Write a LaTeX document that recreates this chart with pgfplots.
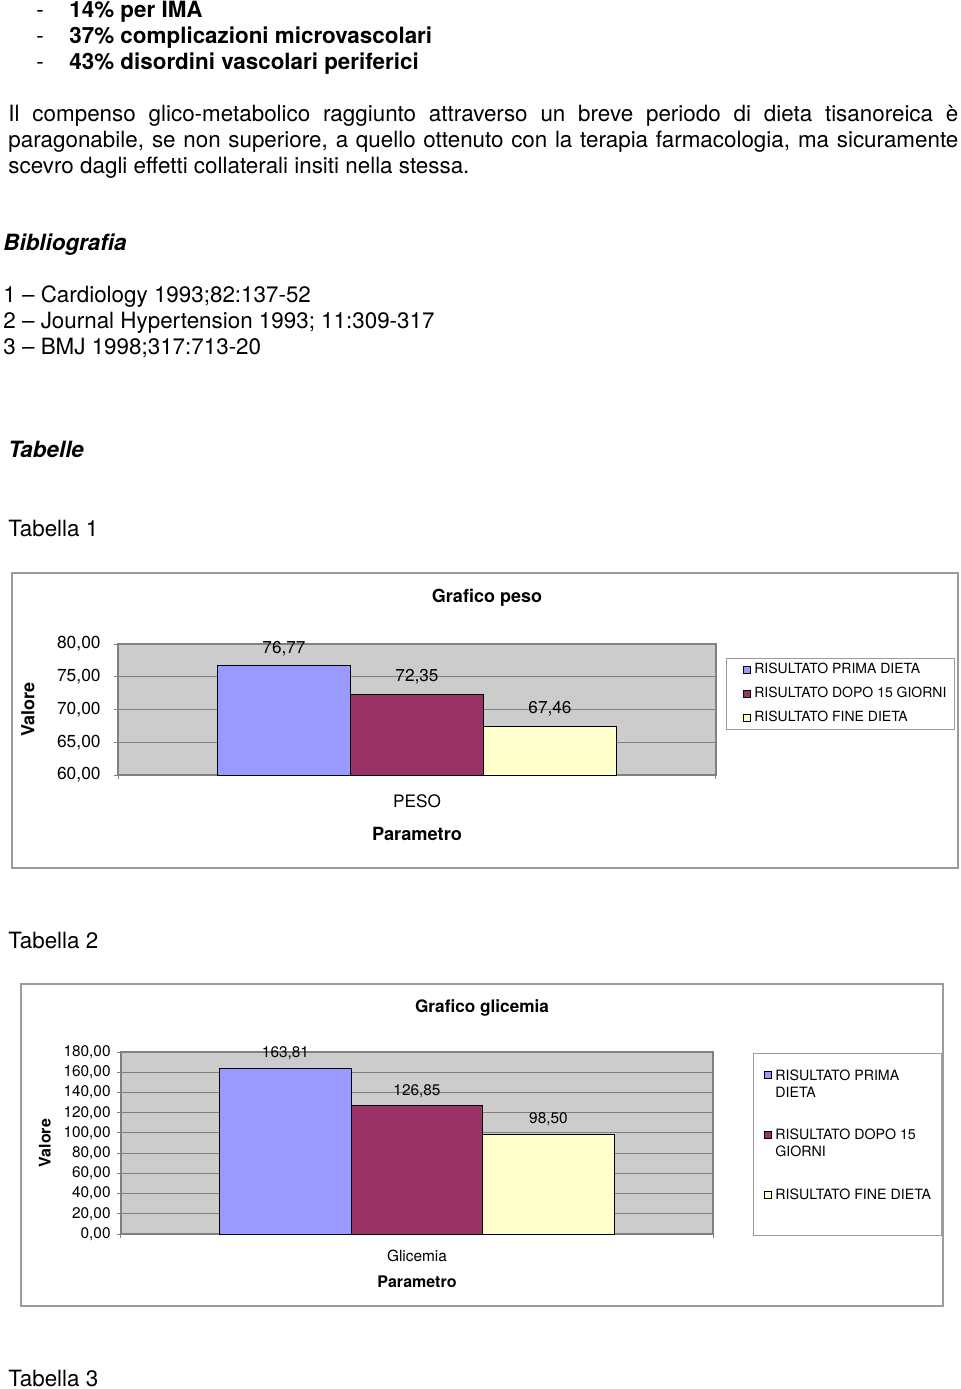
\documentclass[border=0pt]{standalone}
\usepackage{fontspec}
\setmainfont{TeX Gyre Heros}
\usepackage{pgfplots}
\pgfplotsset{compat=1.18}
\definecolor{plotbg}{RGB}{204,204,204}
\definecolor{gridc}{RGB}{128,128,128}
\definecolor{frameg}{RGB}{155,155,155}
\definecolor{barA}{RGB}{153,153,255}
\definecolor{barB}{RGB}{153,51,102}
\definecolor{barC}{RGB}{255,255,204}
\newcommand\fs[2]{\fontsize{#1}{#2}\selectfont}
\pgfplotsset{
  excelbar/.style={
    scale only axis, xmin=-0.5, xmax=0.5,
    xtick={-0.5,0.5}, xticklabels={},
    ybar=0pt,
    axis background/.style={fill=plotbg},
    ymajorgrids, major grid style={gridc, line width=0.5pt},
    axis line style={gridc, line width=0.6pt},
    tick style={gridc, line width=0.5pt},
    tick align=outside, major tick length=2pt, tick pos=left,
    /pgf/number format/fixed, /pgf/number format/fixed zerofill,
    /pgf/number format/precision=2, /pgf/number format/use comma,
    /pgf/number format/assume math mode=true,
    nodes near coords, clip=false,
    legend cell align=left,
  },
  sqleg/.style={legend image code/.code={\path (0pt,0pt); \draw[##1,/tikz/.cd,line width=0.4pt] (#1,-1.75pt) rectangle ++(3.5pt,3.5pt);}},
  sqlegb/.style={legend image code/.code={\path (0pt,0pt); \draw[##1,/tikz/.cd,line width=0.4pt] (#1,0.8pt) rectangle ++(3.5pt,3.5pt);}},
}
\begin{document}
\begin{tikzpicture}
\path[use as bounding box] (0,0) rectangle (480pt,-694.5pt);
\begin{scope}[x=0.5pt,y=-0.5pt, every node/.style={inner sep=0pt, anchor=base west}]
 \node[font=\fs{11.2}{13.4}] at (36,17) {-};
 \node[font=\fs{11.2}{13.4}] at (36,43) {-};
 \node[font=\fs{11.2}{13.4}] at (36,69) {-};
 \node[font=\fs{11.2}{13.4}\bfseries] at (69,17) {14\% per IMA};
 \node[font=\fs{11.2}{13.4}\bfseries] at (69,43) {37\% complicazioni microvascolari};
 \node[font=\fs{11.2}{13.4}\bfseries] at (69,69) {43\% disordini vascolari periferici};
 \node[font=\fs{11.2}{13.4}] at (8,121) {\makebox[475pt][s]{Il compenso glico-metabolico raggiunto attraverso un breve periodo di dieta tisanoreica è}};
 \node[font=\fs{11.2}{13.4}] at (8,147) {\makebox[475pt][s]{paragonabile, se non superiore, a quello ottenuto con la terapia farmacologia, ma sicuramente}};
 \node[font=\fs{11.2}{13.4}] at (8,173) {scevro dagli effetti collaterali insiti nella stessa.};
 \node[font=\fs{11.2}{13.4}\bfseries\itshape] at (3,250) {Bibliografia};
 \node[font=\fs{11.2}{13.4}] at (3,302) {1 – Cardiology 1993;82:137-52};
 \node[font=\fs{11.2}{13.4}] at (3,328) {2 – Journal Hypertension 1993; 11:309-317};
 \node[font=\fs{11.2}{13.4}] at (3,354) {3 – BMJ 1998;317:713-20};
 \node[font=\fs{11.2}{13.4}\bfseries\itshape] at (8,457) {Tabelle};
 \node[font=\fs{11.2}{13.4}] at (8,536) {Tabella 1};
 \node[font=\fs{11.2}{13.4}] at (8,948) {Tabella 2};
 \node[font=\fs{11.2}{13.4}] at (8,1386) {Tabella 3};
 \draw[frameg, line width=0.6pt] (12,573) rectangle (958,868);
 \draw[frameg, line width=0.6pt] (21,984) rectangle (943,1306);
\end{scope}

\begin{axis}[excelbar,
  at={(59pt,-387.5pt)}, anchor=south west,
  width=299pt, height=65.5pt,
  ymin=60, ymax=80, ytick={60,65,...,80},
  bar width=66.5pt,
  extra x ticks={0}, extra x tick labels={PESO},
  extra x tick style={major tick length=0pt, xticklabel style={font=\fs{8.6}{10}, anchor=center, yshift=-13pt}},
  yticklabel style={font=\fs{8.7}{10}, anchor=east, inner sep=0pt, xshift=-6.5pt},
  every node near coord/.append style={font=\fs{8.6}{10}, anchor=center, yshift=8.5pt},
  title={Grafico peso}, title style={font=\fs{9}{11}\bfseries, at={(axis description cs:0.617,1.2595)}, anchor=center},
  xlabel={Parametro}, xlabel style={font=\fs{9.1}{11}\bfseries, at={(axis description cs:0.5,-0.4504)}, anchor=center},
  ylabel={Valore}, ylabel style={font=\fs{9}{11}\bfseries, at={(axis description cs:-0.1505,0.5)}, anchor=center},
  legend style={at={(axis description cs:1.0167,0.8931)}, anchor=north west, draw=frameg, line width=0.5pt, font=\fs{7.0}{8.4}, inner xsep=2pt, inner ysep=0.5pt, row sep=1.25pt},
]
\addplot[fill=barA, draw=black, line width=0.5pt, sqleg=6pt] coordinates {(0,76.77)};
\addplot[fill=barB, draw=black, line width=0.5pt, sqleg=6pt] coordinates {(0,72.35)};
\addplot[fill=barC, draw=black, line width=0.5pt, sqleg=6pt] coordinates {(0,67.46)};
\addlegendentry{RISULTATO PRIMA DIETA}
\addlegendentry{RISULTATO DOPO 15 GIORNI}
\addlegendentry{RISULTATO FINE DIETA}
\end{axis}

\begin{axis}[excelbar,
  at={(60.5pt,-617pt)}, anchor=south west,
  width=296pt, height=91pt,
  ymin=0, ymax=180, ytick={0,20,...,180},
  bar width=65.75pt,
  extra x ticks={0}, extra x tick labels={Glicemia},
  extra x tick style={major tick length=0pt, xticklabel style={font=\fs{7.7}{9}, anchor=center, yshift=-11pt}},
  yticklabel style={font=\fs{7.7}{9}, anchor=east, inner sep=0pt, xshift=-3pt},
  every node near coord/.append style={font=\fs{7.7}{9}, anchor=center, yshift=7.5pt},
  title={Grafico glicemia}, title style={font=\fs{8.6}{10}\bfseries, at={(axis description cs:0.6098,1.1757)}, anchor=center},
  xlabel={Parametro}, xlabel style={font=\fs{8}{10}\bfseries, at={(axis description cs:0.5,-0.2637)}, anchor=center},
  ylabel={Valore}, ylabel style={font=\fs{8}{10}\bfseries, at={(axis description cs:-0.1284,0.5)}, anchor=center},
  legend style={at={(axis description cs:1.0676,0.9945)}, anchor=north west, draw=frameg, line width=0.5pt, font=\fs{7.1}{8.5}, inner xsep=3pt, inner ysep=6pt, row sep=12pt, nodes={text depth=}, cells={anchor=base west}},
]
\addplot[fill=barA, draw=black, line width=0.5pt, sqlegb=2pt] coordinates {(0,163.81)};
\addplot[fill=barB, draw=black, line width=0.5pt, sqlegb=2pt] coordinates {(0,126.85)};
\addplot[fill=barC, draw=black, line width=0.5pt, sqlegb=2pt] coordinates {(0,98.50)};
\addlegendentry{\parbox[t]{76pt}{RISULTATO PRIMA\\DIETA}}
\addlegendentry{\parbox[t]{76pt}{RISULTATO DOPO 15\\GIORNI}}
\addlegendentry{RISULTATO FINE DIETA\rule[-10pt]{0pt}{0pt}}
\end{axis}
\end{tikzpicture}
\end{document}
